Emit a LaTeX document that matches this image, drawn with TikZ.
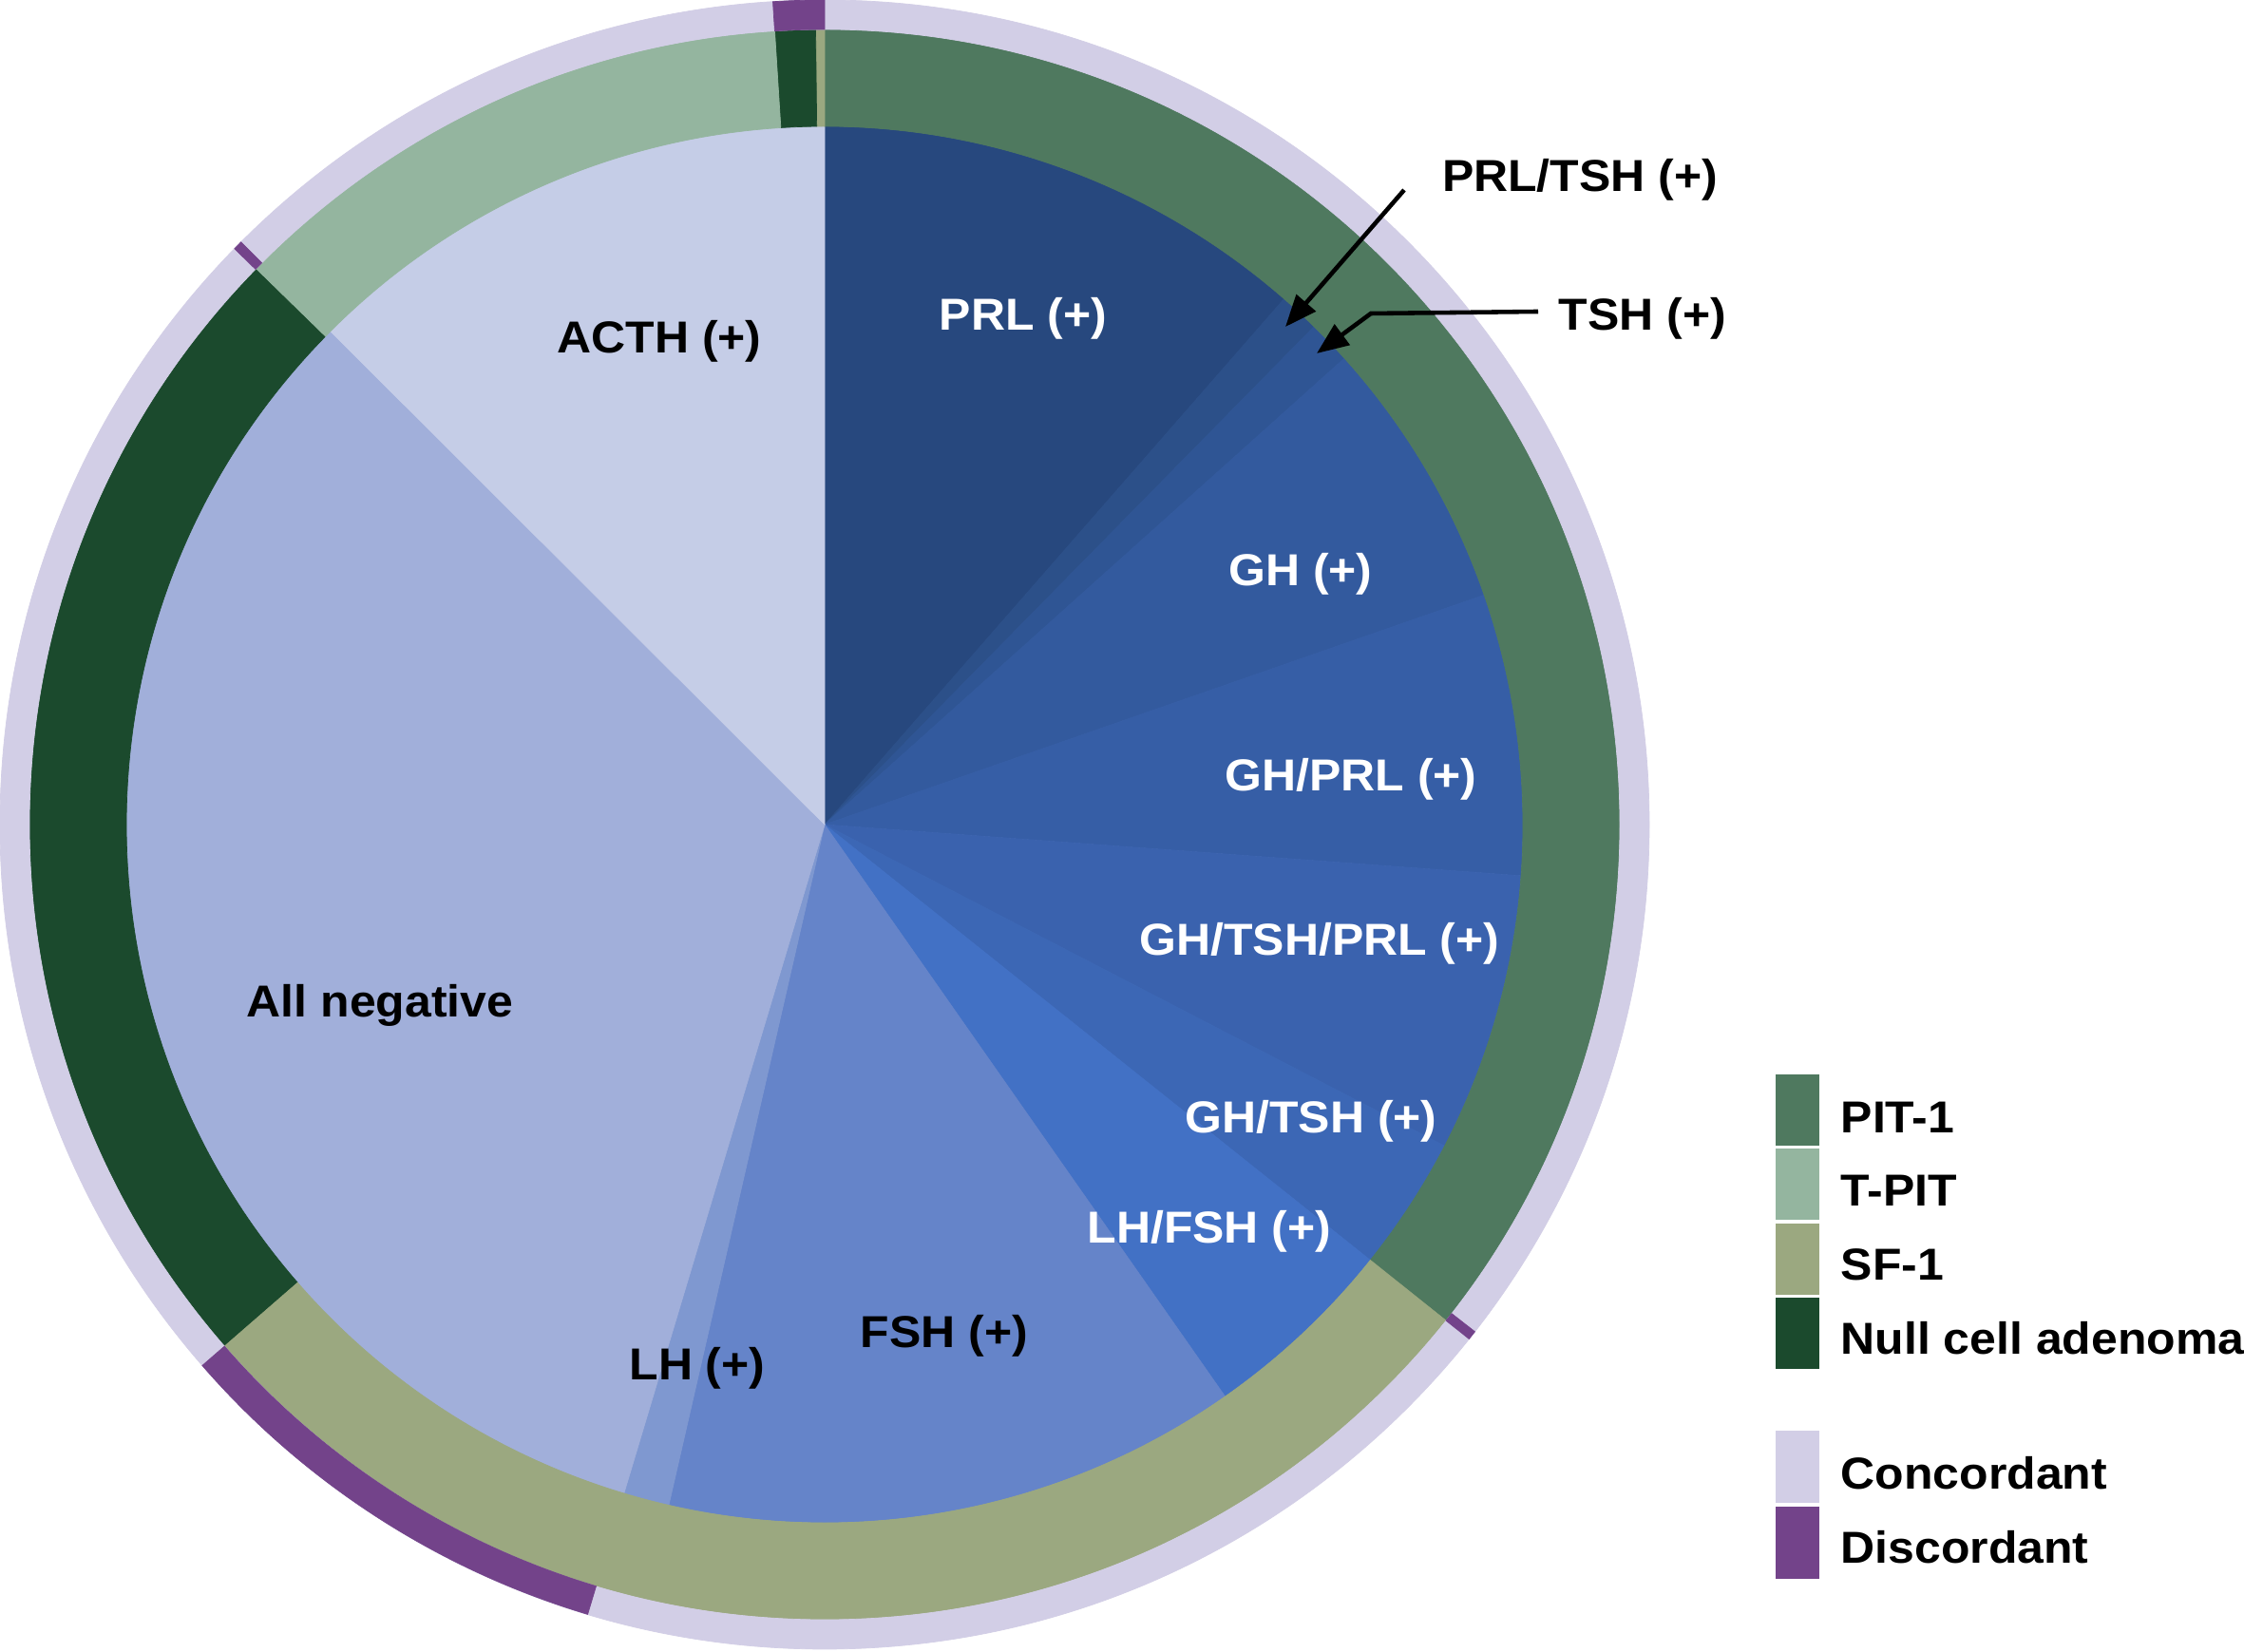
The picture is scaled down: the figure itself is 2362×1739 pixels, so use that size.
\documentclass[tikz,border=0pt]{standalone}
\usepackage{fontspec}
\setmainfont{Liberation Sans}[FakeStretch=1.06]
\usetikzlibrary{arrows.meta}
\definecolor{cPRL}{HTML}{27487E}
\definecolor{cPRLTSH}{HTML}{2C5089}
\definecolor{cTSH}{HTML}{2F5594}
\definecolor{cGH}{HTML}{335A9E}
\definecolor{cGHPRL}{HTML}{365EA6}
\definecolor{cGHTSHPRL}{HTML}{3A62AE}
\definecolor{cGHTSH}{HTML}{3C67B5}
\definecolor{cLHFSH}{HTML}{4271C5}
\definecolor{cFSH}{HTML}{6584C9}
\definecolor{cLH}{HTML}{7F98D0}
\definecolor{cNeg}{HTML}{A1AFDA}
\definecolor{cACTH}{HTML}{C5CDE7}
\definecolor{cPIT}{HTML}{4F795F}
\definecolor{cTPIT}{HTML}{94B59F}
\definecolor{cSF}{HTML}{9BA880}
\definecolor{cNull}{HTML}{1B4A2D}
\definecolor{cConc}{HTML}{D2CEE6}
\definecolor{cDisc}{HTML}{73438A}
\newcommand\mypie[3]{\filldraw[fill=#1,draw=#1,line width=0.2pt] (0,0) -- (#2:735) arc[start angle=#2,end angle=#3,radius=735] -- cycle;}
\newcommand\myseg[5]{\filldraw[fill=#1,draw=#1,line width=0.2pt] (#2:#4) arc[start angle=#2,end angle=#3,radius=#4] -- (#3:#5) arc[start angle=#3,end angle=#2,radius=#5] -- cycle;}
\tikzset{
  lbl/.style={font=\bfseries\fontsize{13.4}{16}\selectfont, inner sep=0pt, anchor=base},
  wlbl/.style={lbl, text=white},
  leg/.style={font=\bfseries\fontsize{13.4}{16}\selectfont, inner sep=0pt, anchor=base west},
  legbox/.style={minimum width=0.46cm, minimum height=0.75cm, inner sep=0pt, draw=none},
  pointer/.style={-{Triangle[length=9.5pt,width=7.5pt]}, line width=1.3pt, black}
}
\begin{document}
\begin{tikzpicture}[x=0.01cm,y=0.01cm]
\useasboundingbox (0,0) rectangle (2362,1739);
\fill[white] (0,0) rectangle (2362,1739);
\begin{scope}[shift={(868,871)}]
% inner pie
\mypie{cPRL}{48.85}{90}
\mypie{cPRLTSH}{45.5}{48.85}
\mypie{cTSH}{41.9}{45.5}
\mypie{cGH}{19.2}{41.9}
\mypie{cGHPRL}{-4.2}{19.2}
\mypie{cGHTSHPRL}{-27.4}{-4.2}
\mypie{cGHTSH}{-38.6}{-27.4}
\mypie{cLHFSH}{-55}{-38.6}
\mypie{cFSH}{-102.9}{-55}
\mypie{cLH}{-106.7}{-102.9}
\mypie{cNeg}{135.05}{253.3}
\mypie{cACTH}{90}{135.05}
% middle ring
\myseg{cPIT}{-38.6}{90}{735}{837}
\myseg{cSF}{90}{90.65}{735}{837}
\myseg{cNull}{90.65}{93.6}{735}{837}
\myseg{cTPIT}{93.6}{135.7}{735}{837}
\myseg{cNull}{135.7}{221}{735}{837}
\myseg{cSF}{221}{321.4}{735}{837}
% outer ring
\myseg{cConc}{0}{360}{837}{868}
\myseg{cDisc}{90}{93.6}{837}{868}
\myseg{cDisc}{135.05}{135.7}{837}{868}
\myseg{cDisc}{221}{253.3}{837}{868}
\myseg{cDisc}{-38.6}{-37.95}{837}{868}
\end{scope}
% labels in the pie
\node[wlbl] (lprl) at (1077,1391) {PRL (+)};
\node[lbl] (lacth) at (694,1367) {ACTH (+)};
\node[wlbl] (lgh) at (1369,1122) {GH (+)};
\node[wlbl] (lghprl) at (1422,906) {GH/PRL (+)};
\node[wlbl] (lghtshprl) at (1389,733) {GH/TSH/PRL (+)};
\node[wlbl] (lghtsh) at (1380,546) {GH/TSH (+)};
\node[wlbl] (llhfsh) at (1273,430) {LH/FSH (+)};
\node[lbl] (lfsh) at (994,320) {FSH (+)};
\node[lbl] (llh) at (734,286) {LH (+)};
\node[lbl] (lneg) at (400,668) {All negative};
% outside labels with pointers
\node[lbl] (lprltsh) at (1663,1537) {PRL/TSH (+)};
\node[lbl] (ltsh) at (1729,1391) {TSH (+)};
\coordinate (prltshStart) at (1478,1539);
\coordinate (prltshTip) at (1353,1395);
\coordinate (tshStart) at (1619,1411);
\coordinate (tshBend) at (1443,1409);
\coordinate (tshTip) at (1386,1367);
\draw[pointer] (prltshStart) -- (prltshTip);
\draw[pointer] (tshStart) -- (tshBend) -- (tshTip);
% legend
\node[legbox, fill=cPIT] (b1) at (1892,570.5) {};
\node[legbox, fill=cTPIT] (b2) at (1892,492.5) {};
\node[legbox, fill=cSF] (b3) at (1892,413.5) {};
\node[legbox, fill=cNull] (b4) at (1892,335.5) {};
\node[legbox, fill=cConc] (b5) at (1892,195) {};
\node[legbox, fill=cDisc] (b6) at (1892,115) {};
\node[leg] (t1) at (1937,546) {PIT-1};
\node[leg] (t2) at (1937,469) {T-PIT};
\node[leg] (t3) at (1937,391) {SF-1};
\node[leg] (t4) at (1937,313) {Null cell adenoma};
\node[leg] (t5) at (1937,171) {Concordant};
\node[leg] (t6) at (1937,93) {Discordant};
\end{tikzpicture}
\end{document}
